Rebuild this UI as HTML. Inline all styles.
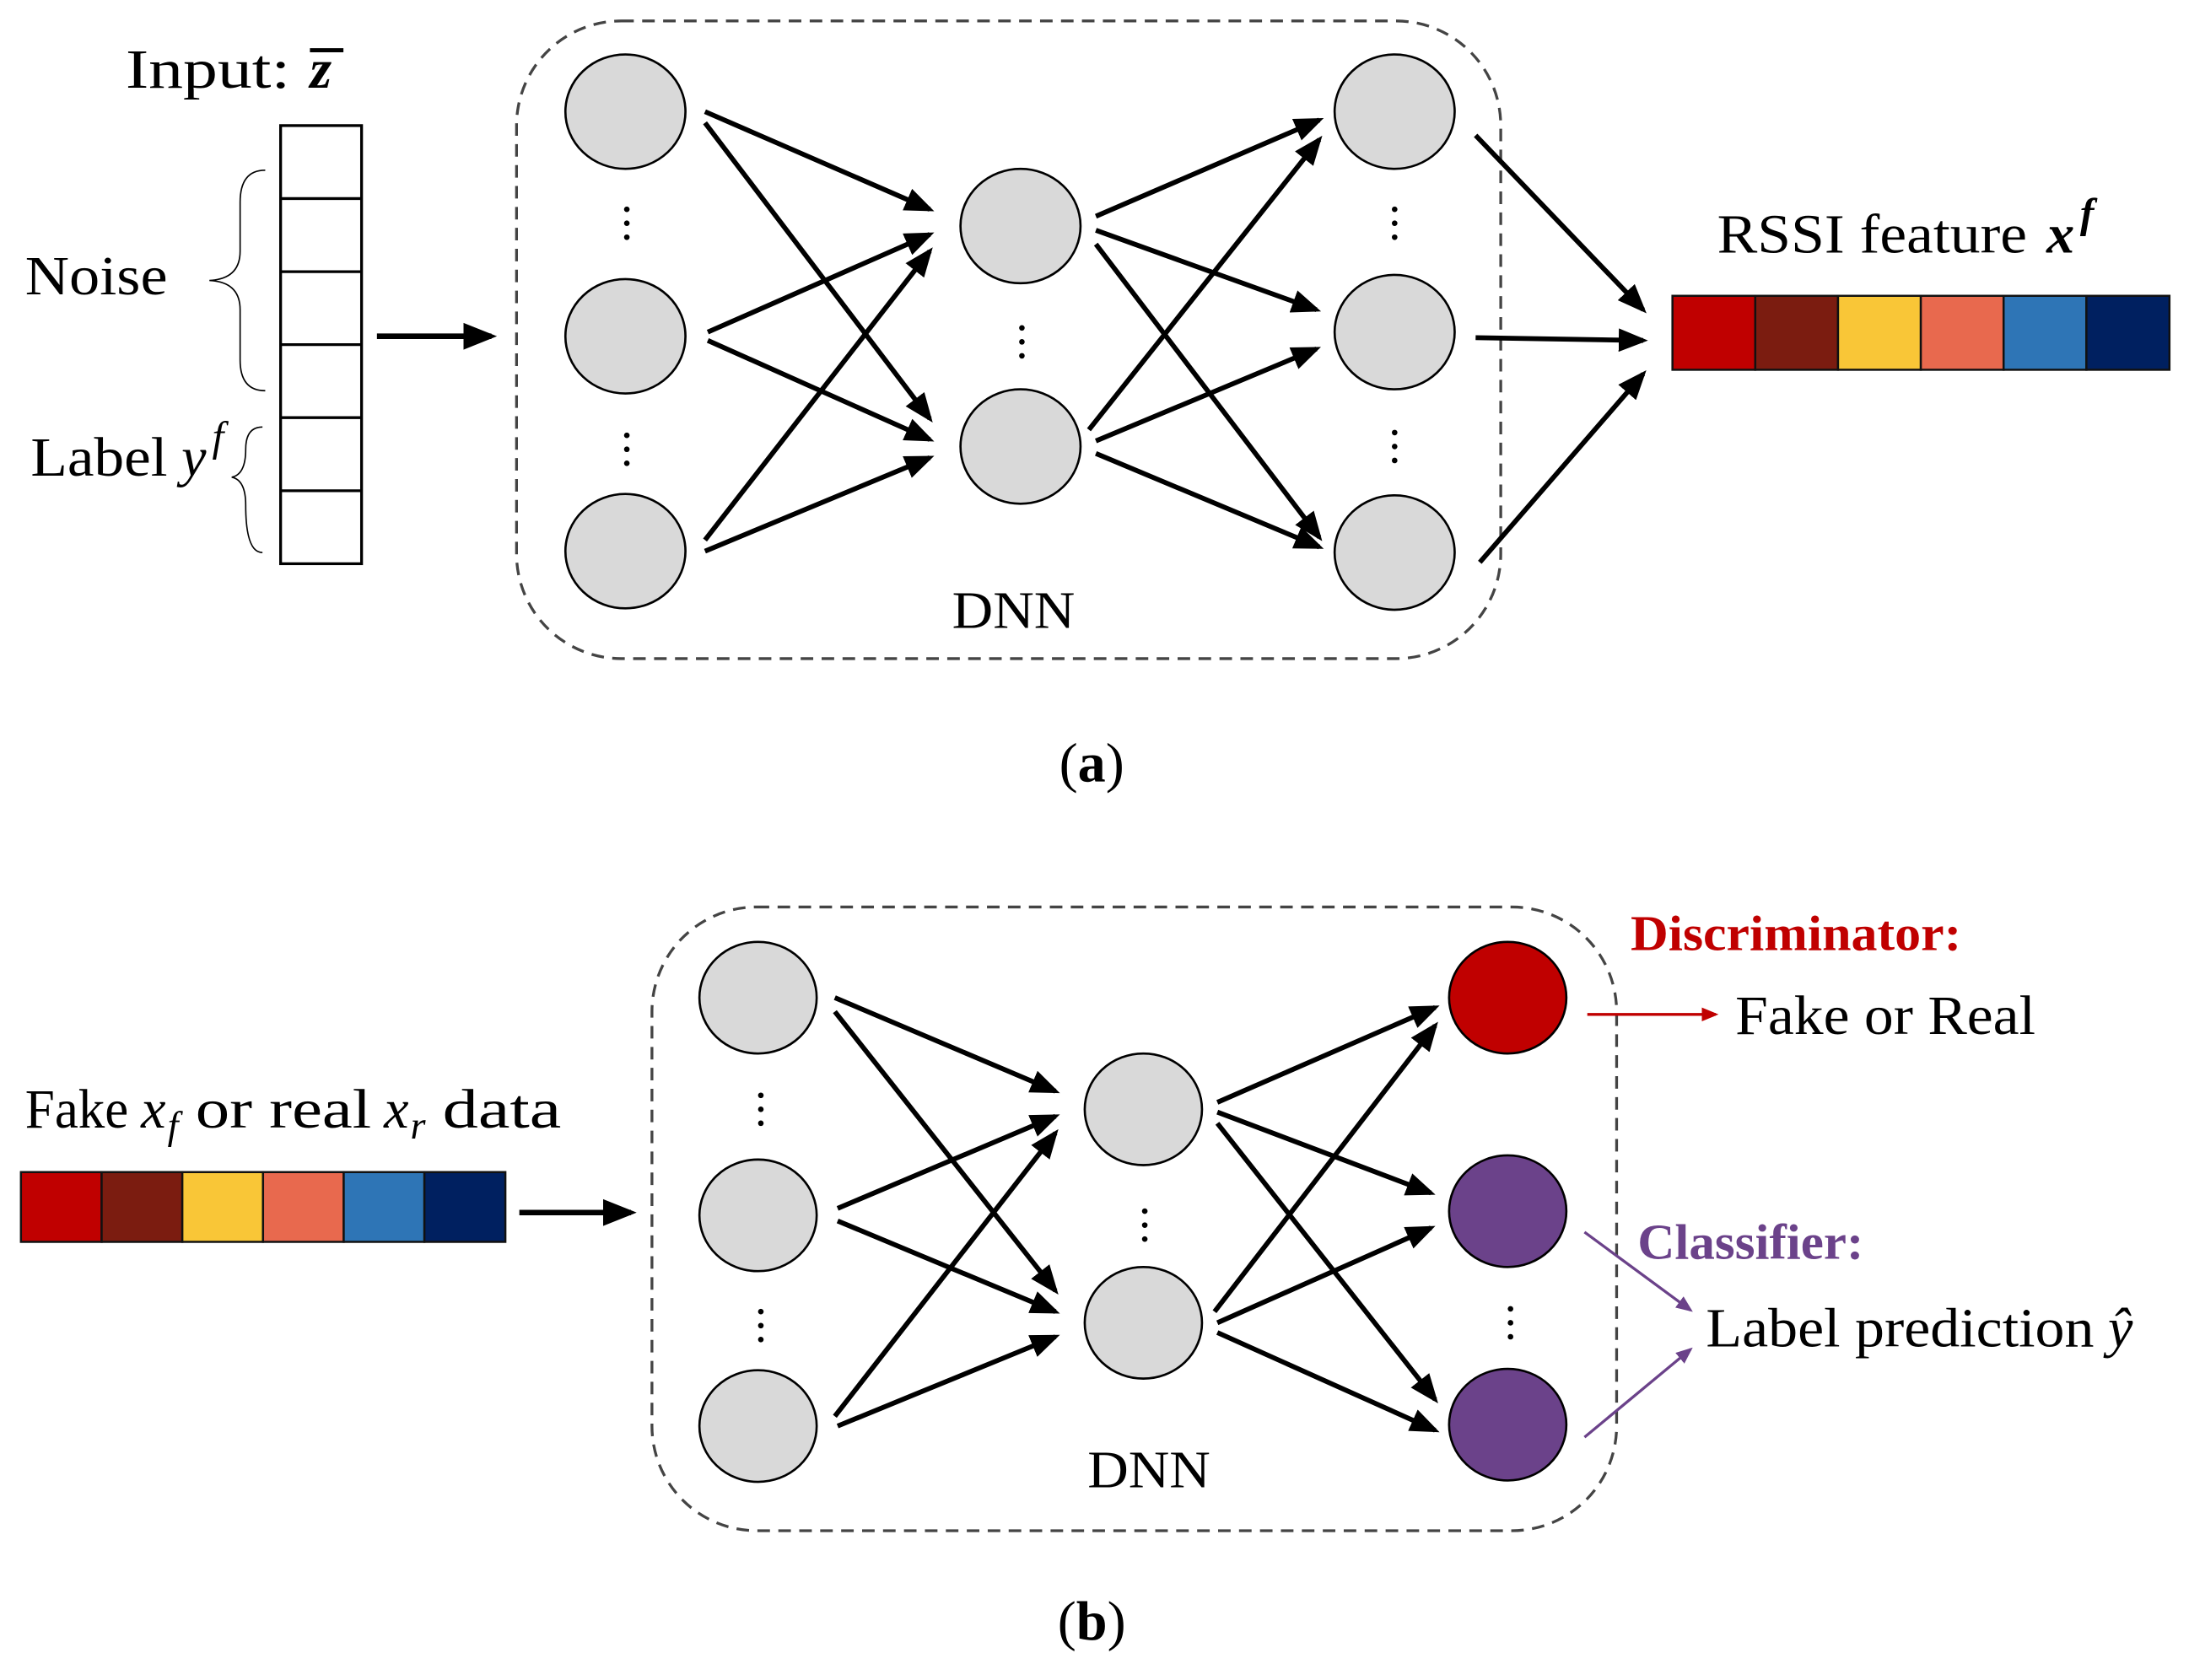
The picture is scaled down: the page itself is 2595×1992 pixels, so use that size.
<!DOCTYPE html>
<html><head><meta charset="utf-8"><style>
html,body{margin:0;padding:0;background:#fff;}
svg{display:block;}
text{font-family:"Liberation Serif",serif;fill:#000;}
</style></head><body>
<svg width="2595" height="1992" viewBox="0 0 1568 1204" preserveAspectRatio="none" xmlns="http://www.w3.org/2000/svg">
<defs>
<marker id="ah" markerWidth="6" markerHeight="6" refX="5" refY="3" orient="auto" markerUnits="strokeWidth"><path d="M0,0.6 L6,3 L0,5.4 z" fill="#000"/></marker>
<marker id="ar" markerWidth="6" markerHeight="6" refX="5" refY="3" orient="auto" markerUnits="strokeWidth"><path d="M0,0.5 L6,3 L0,5.5 z" fill="#C00000"/></marker>
<marker id="ap" markerWidth="6" markerHeight="6" refX="5" refY="3" orient="auto" markerUnits="strokeWidth"><path d="M0,0.5 L6,3 L0,5.5 z" fill="#6B428A"/></marker>
</defs>

<!-- (a) -->
<text x="90" y="63" font-size="40" textLength="118" lengthAdjust="spacingAndGlyphs">Input:</text>
<text x="222" y="63" font-size="40" font-weight="bold" font-style="italic">z</text>
<line x1="222" y1="36" x2="246" y2="36" stroke="#000" stroke-width="3"/>
<rect x="201" y="90" width="58" height="314" fill="#fff" stroke="#000" stroke-width="2"/>
<g stroke="#000" stroke-width="2">
<line x1="201" y1="142.3" x2="259" y2="142.3"/><line x1="201" y1="194.7" x2="259" y2="194.7"/>
<line x1="201" y1="247" x2="259" y2="247"/><line x1="201" y1="299.3" x2="259" y2="299.3"/>
<line x1="201" y1="351.7" x2="259" y2="351.7"/></g>
<path d="M190,122 Q172,122 172,145 L172,180 Q172,200 150,201 Q172,202 172,222 L172,258 Q172,280 190,280" fill="none" stroke="#000" stroke-width="1"/>
<path d="M188,306 Q176,306 176,322 Q176,340 166,342 Q176,344 176,362 Q176,396 188,396" fill="none" stroke="#000" stroke-width="1"/>
<text x="18" y="211" font-size="40" textLength="102" lengthAdjust="spacingAndGlyphs">Noise</text>
<text x="22" y="341" font-size="40" textLength="98" lengthAdjust="spacingAndGlyphs">Label</text>
<text x="130" y="341" font-size="40" font-style="italic">y</text>
<text x="152" y="323" font-size="30" font-style="italic">f</text>
<line x1="270" y1="241" x2="352" y2="241" stroke="#000" stroke-width="4" marker-end="url(#ah)"/>

<rect x="370" y="15" width="705" height="457" rx="75" fill="none" stroke="#444" stroke-width="2" stroke-dasharray="9,6"/>
<g fill="#D9D9D9" stroke="#000" stroke-width="1.6">
<ellipse cx="448" cy="80" rx="43" ry="41"/><ellipse cx="448" cy="241" rx="43" ry="41"/><ellipse cx="448" cy="395" rx="43" ry="41"/>
<ellipse cx="731" cy="162" rx="43" ry="41"/><ellipse cx="731" cy="320" rx="43" ry="41"/>
<ellipse cx="999" cy="80" rx="43" ry="41"/><ellipse cx="999" cy="238" rx="43" ry="41"/><ellipse cx="999" cy="396" rx="43" ry="41"/>
</g>
<g fill="#000">
<circle cx="449" cy="150" r="2"/><circle cx="449" cy="160" r="2"/><circle cx="449" cy="170" r="2"/>
<circle cx="449" cy="312" r="2"/><circle cx="449" cy="322" r="2"/><circle cx="449" cy="332" r="2"/>
<circle cx="732" cy="235" r="2"/><circle cx="732" cy="245" r="2"/><circle cx="732" cy="255" r="2"/>
<circle cx="999" cy="150" r="2"/><circle cx="999" cy="160" r="2"/><circle cx="999" cy="170" r="2"/>
<circle cx="999" cy="310" r="2"/><circle cx="999" cy="320" r="2"/><circle cx="999" cy="330" r="2"/>
</g>
<g stroke="#000" stroke-width="3.5" marker-end="url(#ah)">
<line x1="505" y1="80" x2="666" y2="150"/><line x1="505" y1="88" x2="666" y2="300"/>
<line x1="507" y1="238" x2="666" y2="168"/><line x1="507" y1="244" x2="666" y2="315"/>
<line x1="505" y1="387" x2="666" y2="180"/><line x1="505" y1="395" x2="666" y2="328"/>
<line x1="785" y1="155" x2="945" y2="86"/><line x1="785" y1="165" x2="943" y2="222"/><line x1="785" y1="175" x2="945" y2="385"/>
<line x1="780" y1="308" x2="945" y2="100"/><line x1="785" y1="316" x2="943" y2="250"/><line x1="785" y1="325" x2="945" y2="392"/>
<line x1="1057" y1="97" x2="1177" y2="222"/><line x1="1057" y1="242" x2="1177" y2="244"/><line x1="1060" y1="403" x2="1177" y2="268"/>
</g>
<text x="682" y="450" font-size="38" textLength="88" lengthAdjust="spacingAndGlyphs">DNN</text>
<text x="1230" y="181" font-size="40" textLength="222" lengthAdjust="spacingAndGlyphs">RSSI feature</text>
<text x="1466" y="181" font-size="40" font-weight="bold" font-style="italic">x</text>
<text x="1490" y="163" font-size="30" font-weight="bold" font-style="italic">f</text>
<g stroke="#111" stroke-width="1.5">
<rect x="1198" y="212" width="59.3" height="53" fill="#C00000"/><rect x="1257.3" y="212" width="59.3" height="53" fill="#7B1C10"/>
<rect x="1316.6" y="212" width="59.3" height="53" fill="#F9C637"/><rect x="1375.9" y="212" width="59.3" height="53" fill="#E8694E"/>
<rect x="1435.2" y="212" width="59.3" height="53" fill="#2E75B6"/><rect x="1494.5" y="212" width="59.5" height="53" fill="#002060"/>
</g>
<text x="782" y="560" font-size="40" text-anchor="middle">(<tspan font-weight="bold">a</tspan>)</text>

<!-- (b) -->
<rect x="467" y="650" width="691" height="447" rx="75" fill="none" stroke="#444" stroke-width="2" stroke-dasharray="9,6"/>
<g fill="#D9D9D9" stroke="#000" stroke-width="1.6">
<ellipse cx="543" cy="715" rx="42" ry="40"/><ellipse cx="543" cy="871" rx="42" ry="40"/><ellipse cx="543" cy="1022" rx="42" ry="40"/>
<ellipse cx="819" cy="795" rx="42" ry="40"/><ellipse cx="819" cy="948" rx="42" ry="40"/>
<ellipse cx="1080" cy="715" rx="42" ry="40" fill="#C00000"/><ellipse cx="1080" cy="868" rx="42" ry="40" fill="#6B428A"/><ellipse cx="1080" cy="1021" rx="42" ry="40" fill="#6B428A"/>
</g>
<g fill="#000">
<circle cx="545" cy="785" r="2"/><circle cx="545" cy="795" r="2"/><circle cx="545" cy="805" r="2"/>
<circle cx="545" cy="940" r="2"/><circle cx="545" cy="950" r="2"/><circle cx="545" cy="960" r="2"/>
<circle cx="820" cy="868" r="2"/><circle cx="820" cy="878" r="2"/><circle cx="820" cy="888" r="2"/>
<circle cx="1082" cy="938" r="2"/><circle cx="1082" cy="948" r="2"/><circle cx="1082" cy="958" r="2"/>
</g>
<g stroke="#000" stroke-width="3.5" marker-end="url(#ah)">
<line x1="598" y1="715" x2="756" y2="782"/><line x1="598" y1="725" x2="756" y2="925"/>
<line x1="600" y1="866" x2="756" y2="800"/><line x1="600" y1="875" x2="756" y2="940"/>
<line x1="598" y1="1015" x2="756" y2="812"/><line x1="600" y1="1022" x2="756" y2="958"/>
<line x1="872" y1="790" x2="1028" y2="722"/><line x1="872" y1="797" x2="1025" y2="855"/><line x1="872" y1="805" x2="1028" y2="1003"/>
<line x1="870" y1="940" x2="1028" y2="735"/><line x1="872" y1="948" x2="1025" y2="880"/><line x1="872" y1="955" x2="1028" y2="1025"/>
</g>
<text x="779" y="1066" font-size="38" textLength="88" lengthAdjust="spacingAndGlyphs">DNN</text>
<line x1="1137" y1="727" x2="1229" y2="727" stroke="#C00000" stroke-width="2" marker-end="url(#ar)"/>
<line x1="1135" y1="883" x2="1211" y2="939" stroke="#6B428A" stroke-width="2" marker-end="url(#ap)"/>
<line x1="1135" y1="1030" x2="1211" y2="967" stroke="#6B428A" stroke-width="2" marker-end="url(#ap)"/>
<text x="1168" y="681" font-size="36" font-weight="bold" style="fill:#C00000" textLength="237" lengthAdjust="spacingAndGlyphs">Discriminator:</text>
<text x="1243" y="741" font-size="40" textLength="215" lengthAdjust="spacingAndGlyphs">Fake or Real</text>
<text x="1173" y="902" font-size="36" font-weight="bold" style="fill:#6B428A" textLength="162" lengthAdjust="spacingAndGlyphs">Classifier:</text>
<text x="1222" y="965" font-size="40" textLength="278" lengthAdjust="spacingAndGlyphs">Label prediction</text>
<text x="1510" y="965" font-size="40" font-style="italic">ŷ</text>
<text x="18" y="808" font-size="40" textLength="74" lengthAdjust="spacingAndGlyphs">Fake</text>
<text x="101" y="808" font-size="40" font-style="italic">x</text>
<text x="120" y="816" font-size="28" font-style="italic">f</text>
<text x="140" y="808" font-size="40" textLength="126" lengthAdjust="spacingAndGlyphs">or real</text>
<text x="275" y="808" font-size="40" font-style="italic">x</text>
<text x="294" y="816" font-size="28" font-style="italic">r</text>
<text x="317" y="808" font-size="40" textLength="85" lengthAdjust="spacingAndGlyphs">data</text>
<g stroke="#111" stroke-width="1.5">
<rect x="15" y="840" width="57.8" height="50" fill="#C00000"/><rect x="72.8" y="840" width="57.8" height="50" fill="#7B1C10"/>
<rect x="130.6" y="840" width="57.8" height="50" fill="#F9C637"/><rect x="188.4" y="840" width="57.8" height="50" fill="#E8694E"/>
<rect x="246.2" y="840" width="57.8" height="50" fill="#2E75B6"/><rect x="304" y="840" width="58" height="50" fill="#002060"/>
</g>
<line x1="372" y1="869" x2="452" y2="869" stroke="#000" stroke-width="4" marker-end="url(#ah)"/>
<text x="782" y="1175" font-size="40" text-anchor="middle">(<tspan font-weight="bold">b</tspan>)</text>
</svg>
</body></html>
